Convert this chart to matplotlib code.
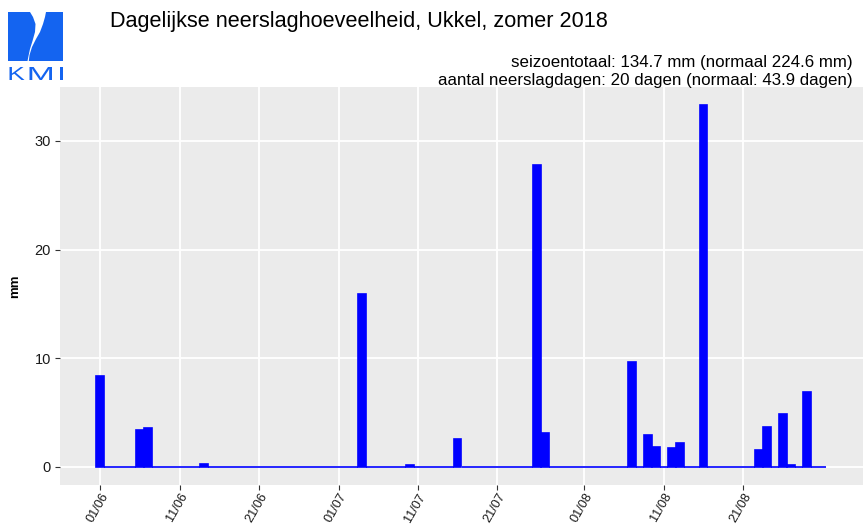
import numpy as np
import pandas as pd
import matplotlib
matplotlib.use("Agg")
import matplotlib.pyplot as plt
import matplotlib.dates as mdates
from matplotlib.patches import Polygon, PathPatch
from matplotlib.textpath import TextPath
from matplotlib.font_manager import FontProperties
from matplotlib.transforms import Affine2D

plt.rcParams['font.family'] = ['Liberation Sans', 'DejaVu Sans']

# ---- data ----
june = [8.4, 0, 0, 0, 0, 3.4, 3.6, 0, 0, 0,
        0, 0, 0, 0.3, 0, 0, 0, 0, 0, 0,
        0, 0, 0, 0, 0, 0, 0, 0, 0, 0]
july = [0, 0, 0, 15.9, 0, 0, 0, 0, 0, 0.2,
        0, 0, 0, 0, 0, 2.6, 0, 0, 0, 0,
        0, 0, 0, 0, 0, 27.8, 3.1, 0, 0, 0, 0]
august = [0, 0, 0, 0, 0, 0, 9.7, 0, 2.9, 1.85,
          0, 1.7, 2.2, 0, 0, 33.3, 0, 0, 0, 0,
          0, 0, 1.6, 3.7, 0, 4.9, 0.2, 0, 6.9, 0, 0]
values = june + july + august
start_date = "2018-06-01"
tick_dates = ["2018-06-01", "2018-06-11", "2018-06-21", "2018-07-01", "2018-07-11",
              "2018-07-21", "2018-08-01", "2018-08-11", "2018-08-21"]
tick_labels = ["01/06", "11/06", "21/06", "01/07", "11/07", "21/07", "01/08", "11/08", "21/08"]
y_ticks = [0, 10, 20, 30]
title = "Dagelijkse neerslaghoeveelheid, Ukkel, zomer 2018"
sub1 = "seizoentotaal: 134.7 mm (normaal 224.6 mm)"
sub2 = "aantal neerslagdagen: 20 dagen (normaal: 43.9 dagen)"

dates = pd.date_range(start_date, periods=len(values), freq="D")
x = mdates.date2num(dates)

W, H = 863, 526
fig = plt.figure(figsize=(W / 100, H / 100), dpi=100)

def fx(px):
    return px / W

def fy(py):
    return 1 - py / H

ax = fig.add_axes([fx(60), fy(485), fx(863) - fx(60), fy(87) - fy(485)])
ax.set_facecolor("#EBEBEB")
ax.bar(x, values, width=1.0, color="#0000FF", edgecolor="#0000FF", linewidth=1.2, zorder=3)

span = x[-1] - x[0] + 1
ax.set_xlim(x[0] - 0.5 - 0.05 * span, x[-1] + 0.5 + 0.05 * span)
vmax = max(values)
ax.set_ylim(-0.05 * vmax, vmax * 1.05)

tx = mdates.date2num(pd.to_datetime(tick_dates))
ax.set_xticks(tx)
ax.set_xticklabels(tick_labels, rotation=60, ha="right", va="top", rotation_mode="anchor")
ax.set_yticks(y_ticks)
ax.grid(True, color="white", linewidth=1.3, zorder=0)
ax.set_axisbelow(True)
for s in ax.spines.values():
    s.set_visible(False)
ax.tick_params(axis="both", length=3.5, width=0.8, color="#333333",
               labelcolor="#1a1a1a", labelsize=10.5, pad=3)
ax.tick_params(axis="x", labelsize=9.2, pad=1)
ax.set_ylabel("mm", fontweight="bold", fontsize=9.5, labelpad=10)

# titles
fig.text(fx(110), fy(21), title, fontsize=15.6, ha="left", va="center", color="black")
fig.text(fx(853), fy(63), sub1, fontsize=12.2, ha="right", va="center", color="black")
fig.text(fx(853), fy(80), sub2, fontsize=12.2, ha="right", va="center", color="black")

# KMI logo
logo_col = "#1464F0"
lax = fig.add_axes([fx(8), fy(81), fx(63) - fx(8), fy(12) - fy(81)])
lax.set_xlim(0, 55)
lax.set_ylim(69, 0)
lax.axis("off")
left_piece = [(0, 0), (22, 0), (25, 5), (27.5, 12), (27, 20), (24.5, 29), (22, 37),
              (20.5, 44), (19.5, 49), (0, 49)]
right_piece = [(38, 0), (55, 0), (55, 49), (20.8, 49), (21.5, 43), (24, 35), (28, 27),
               (32, 20), (35, 12), (37, 5)]
lax.add_patch(Polygon(left_piece, closed=True, color=logo_col, lw=0))
lax.add_patch(Polygon(right_piece, closed=True, color=logo_col, lw=0))

fp = FontProperties(family="Liberation Sans")
letter_boxes = [("K", 1.5, 16.5), ("M", 21.5, 44), ("I", 51.5, 54.5)]
ytop, ybot = 55, 68
for ch, x0, x1 in letter_boxes:
    tp = TextPath((0, 0), ch, size=10, prop=fp)
    ext = tp.get_extents()
    sx = (x1 - x0) / ext.width
    sy = (ybot - ytop) / ext.height
    tr = Affine2D().translate(-ext.x0, -ext.y0).scale(sx, -sy).translate(x0, ybot)
    lax.add_patch(PathPatch(tr.transform_path(tp), color=logo_col, lw=0))

fig.savefig("out.png", dpi=100)
